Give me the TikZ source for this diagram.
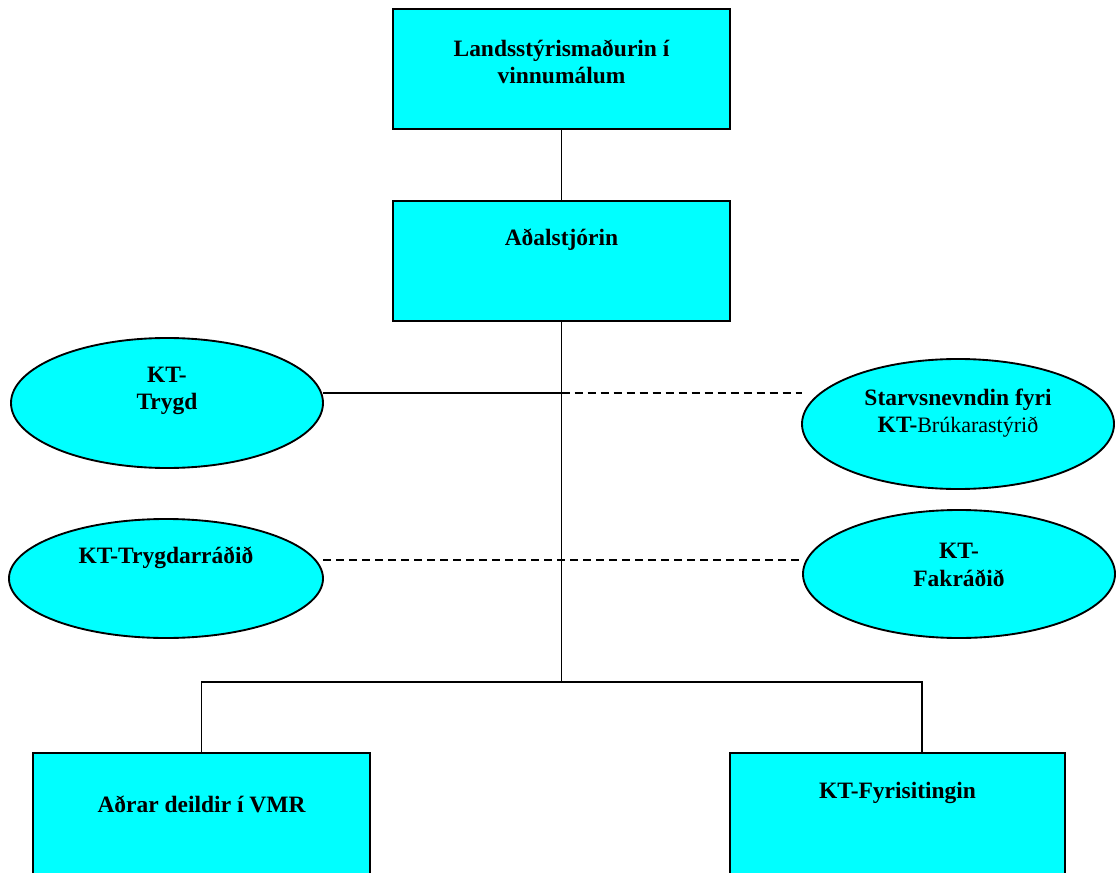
\documentclass[tikz,border=0pt]{standalone}
\usepackage{fontspec}
\setmainfont{Liberation Serif}
\usetikzlibrary{shapes.geometric}
\newlength\pxu
\setlength\pxu{0.75pt}
\definecolor{boxcyan}{HTML}{00FFFF}
\tikzset{
  orgbox/.style={draw=black, fill=boxcyan, line width=1.4pt, rectangle, inner sep=0pt, outer sep=0pt},
  orgell/.style={draw=black, fill=boxcyan, line width=1.4pt, ellipse, inner sep=0pt, outer sep=0pt},
  txt/.style={align=center, inner sep=0pt, font=\bfseries\fontsize{17.6}{20.5}\selectfont},
  link/.style={line width=1.4pt},
  dlink/.style={line width=1.4pt, dash pattern=on 6pt off 3.75pt}
}
\begin{document}
\begin{tikzpicture}[x=\pxu, y=-\pxu]
\useasboundingbox (0,0) rectangle (1116,873);
\clip (0,0) rectangle (1116,873);
% shapes
\node[orgbox, minimum width=337\pxu, minimum height=120\pxu] (top) at (561.5,69) {};
\node[orgbox, minimum width=337\pxu, minimum height=120\pxu] (mid) at (561.5,261) {};
\node[orgell, minimum width=312\pxu, minimum height=130\pxu] (e1) at (167,403) {};
\node[orgell, minimum width=314\pxu, minimum height=119\pxu] (e2) at (166,578.5) {};
\node[orgell, minimum width=312\pxu, minimum height=130\pxu] (e3) at (958,424) {};
\node[orgell, minimum width=312\pxu, minimum height=128\pxu] (e4) at (959,574) {};
\node[orgbox, minimum width=337\pxu, minimum height=130\pxu] (bl) at (201.5,818) {};
\node[orgbox, minimum width=335\pxu, minimum height=130\pxu] (br) at (897.5,818) {};
% texts
\node[txt] (ttop) at (561.5,62) {Landsstýrismaðurin í\\vinnumálum};
\node[txt] (tmid) at (561.5,240) {Aðalstjórin};
\node[txt] (te1) at (167,391) {KT-\\Trygd};
\node[txt] (te2) at (166,558) {KT-Trygdarráðið};
\node[txt] (te3) at (958,413) {Starvsnevndin fyri\\KT-{\mdseries\fontsize{16.5}{20.5}\selectfont Brúkarastýrið}};
\node[txt] (te4) at (959,565) {KT-\\Fakráðið};
\node[txt] (tbl) at (201.5,804) {Aðrar deildir í VMR};
\node[txt] (tbr) at (897.5,793) {KT-Fyrisitingin};
% junction coordinates
\coordinate (c1) at (561.5,393);
\coordinate (c2) at (561.5,560);
\coordinate (j) at (561.5,682);
\coordinate (brin) at (922,753);
% connectors
\draw[link] (top.south) -- (mid.north);
\draw[link] (mid.south) -- (j);
\draw[link] (e1.east |- c1) -- (c1);
\draw[dlink] (c1) -- (e3.west |- c1);
\draw[dlink] (e2.east |- c2) -- (e4.west |- c2);
\draw[link] (bl.north) |- (j) -| (brin);
\end{tikzpicture}
\end{document}
